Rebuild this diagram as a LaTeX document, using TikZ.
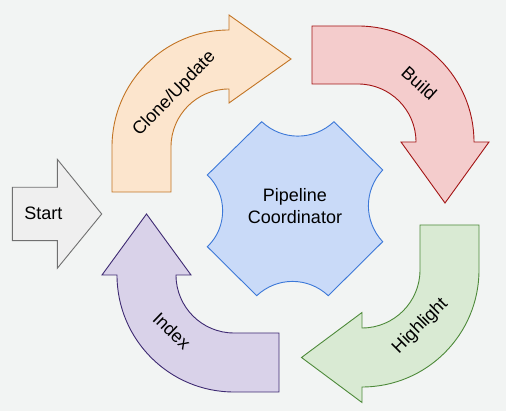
\documentclass[tikz,border=0pt]{standalone}
\usepackage{fontspec}
\setmainfont{Liberation Sans}
\definecolor{bgc}{HTML}{F2F4F3}
\definecolor{orfill}{HTML}{FCE5CD}
\definecolor{ordraw}{HTML}{C27424}
\definecolor{rdfill}{HTML}{F4CCCC}
\definecolor{rddraw}{HTML}{A31515}
\definecolor{grfill}{HTML}{D9EAD3}
\definecolor{grdraw}{HTML}{4E8A3A}
\definecolor{pufill}{HTML}{D9D2E9}
\definecolor{pudraw}{HTML}{3E2A72}
\definecolor{blfill}{HTML}{C9DAF8}
\definecolor{bldraw}{HTML}{3C78D8}
\definecolor{gyfill}{HTML}{EFEFEF}
\definecolor{gydraw}{HTML}{707070}
\tikzset{
  shp/.style={line width=0.9pt},
  lbl/.style={font=\fontsize{18}{21.5}\selectfont, text=black, inner sep=0pt}
}
\begin{document}
\begin{tikzpicture}[x=1pt,y=1pt]
\useasboundingbox (0,0) rectangle (506,411);
\fill[bgc] (0,0) rectangle (506,411);

% Start
\draw[shp, fill=gyfill, draw=gydraw] (12.3,223.7) -- (57.3,223.7) -- (57.3,251.7) -- (101.7,197) -- (57.3,142.7) -- (57.3,170.3) -- (12.3,170.3) -- cycle;
\node[lbl] (start) at (43.3,198) {Start};

% Clone/Update
\draw[shp, fill=orfill, draw=ordraw] (112,219) -- (112,264) arc[start angle=180,end angle=90,radius=117]
  -- (229,396) -- (291,352) -- (229,308) -- (229,322) arc[start angle=90,end angle=180,radius=58]
  -- (171,219) -- cycle;
\node[lbl, rotate=46] (clone) at (174.5,317) {Clone/Update};

% Build
\draw[shp, fill=rdfill, draw=rddraw] (312,385) -- (358,385) arc[start angle=90,end angle=0,radius=116]
  -- (489,269) -- (445,208) -- (401,269) -- (416,269) arc[start angle=0,end angle=90,radius=58]
  -- (312,327) -- cycle;
\node[lbl, rotate=-42] (build) at (419.3,327.7) {Build};

% Highlight
\draw[shp, fill=grfill, draw=grdraw] (479,186) -- (479,141) arc[start angle=0,end angle=-90,radius=117]
  -- (362,8.5) -- (301.5,53.5) -- (362,98.5) -- (362,83) arc[start angle=-90,end angle=0,radius=58]
  -- (420,186) -- cycle;
\node[lbl, rotate=45] (highlight) at (420.3,85) {Highlight};

% Index
\draw[shp, fill=pufill, draw=pudraw] (279,19) -- (234,19) arc[start angle=-90,end angle=-180,radius=117]
  -- (102,136) -- (146.5,197) -- (191,136) -- (176,136) arc[start angle=180,end angle=270,radius=58]
  -- (279,78) -- cycle;
\node[lbl, rotate=-44] (index) at (172,80.3) {Index};

% Pipeline Coordinator
\draw[shp, fill=blfill, draw=bldraw] (261.7,289.3) to[bend right=43] (334,289.3)
  -- (382.7,241) to[bend right=43] (382.7,169.3)
  -- (328.3,115.3) to[bend right=43] (256.7,115.3)
  -- (207.3,164.3) to[bend right=47] (207.3,236) -- cycle;
\node[lbl, align=center] (coord) at (295,205) {Pipeline\\Coordinator};
\end{tikzpicture}
\end{document}
